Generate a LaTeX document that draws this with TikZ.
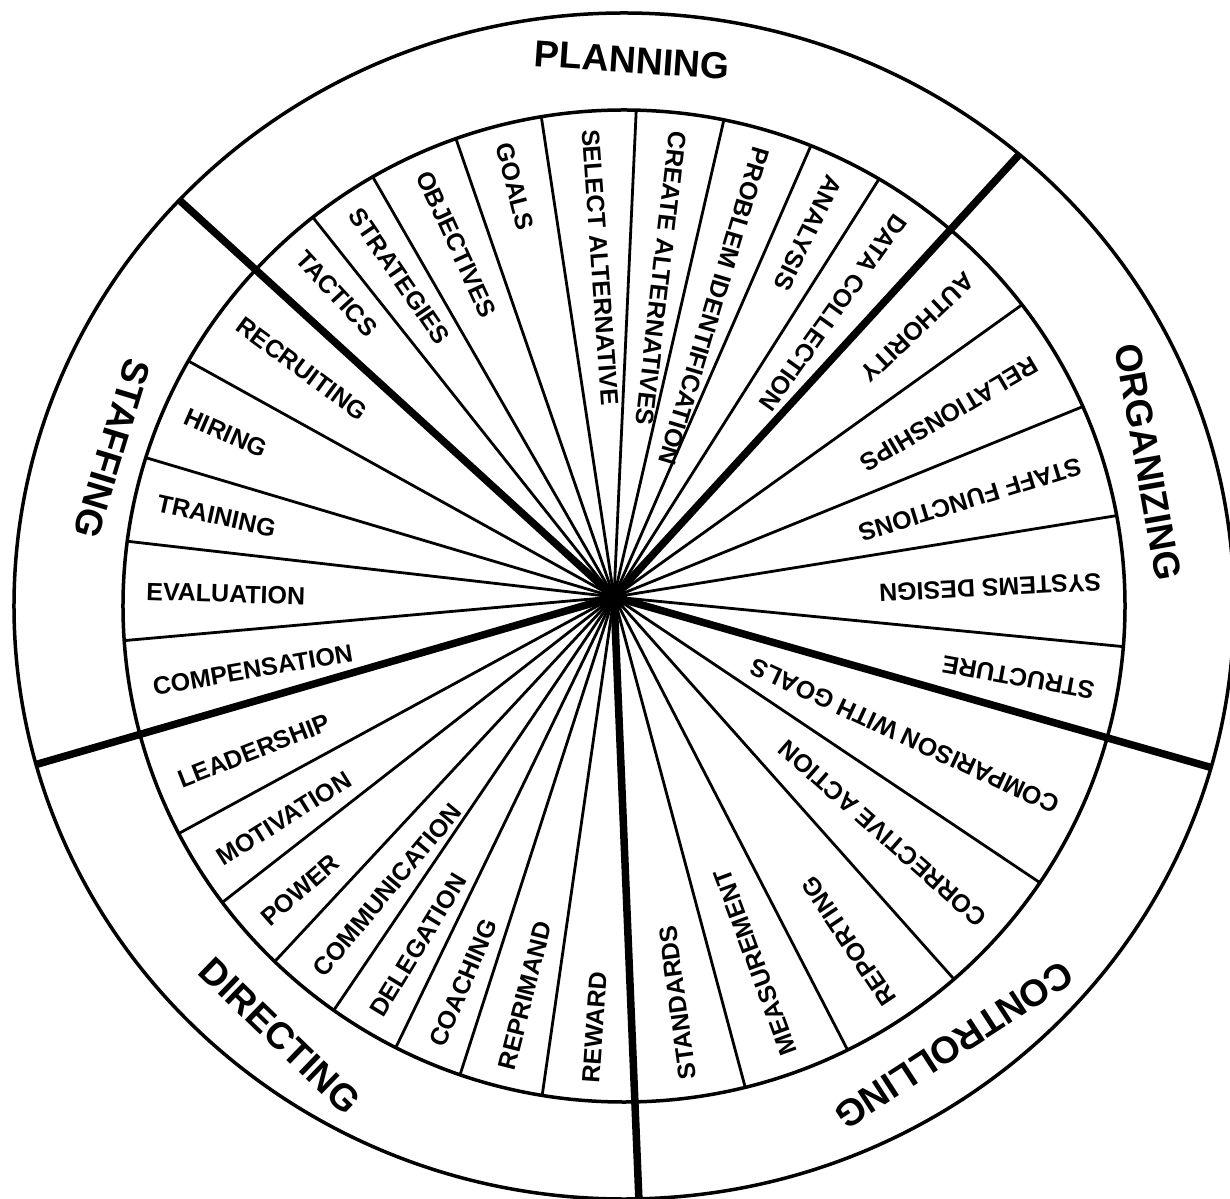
\documentclass[tikz,border=0pt]{standalone}
\usepackage{fontspec}
\setmainfont{Liberation Sans}
\usetikzlibrary{positioning}
\begin{document}
\begin{tikzpicture}[
  x=1pt, y=1pt,
  rim/.style={line width=3.5pt},
  spoke/.style={line width=2.8pt},
  divider/.style={line width=7.5pt},
  seglabel/.style={anchor=west, inner sep=0pt,
                   font=\fontsize{25}{30}\selectfont\bfseries},
  ringlabel/.style={anchor=center, inner sep=0pt,
                    font=\fontsize{37.5}{45}\selectfont\bfseries}
]
\useasboundingbox (-624,-592) rectangle (606,606);
\coordinate (hub) at (-10,9);
\draw[rim] (0,0) ellipse [x radius=610, y radius=593];
\draw[rim] (0,0) ellipse [x radius=501, y radius=496];
\foreach \a in {-4.7,10.5,23.7,37.4,59.4,68.1,78.5,88.6,99.5,109.6,120.1,128.4,
                150.4,162.6,172.5,184.0,207.3,216.7,225.8,234.6,242.9,250.9,260.6,
                284.0,296.5,311.2,326.1}
  \draw[spoke] (hub) -- (\a:501 and 496);
\foreach \a in {-15.8,49.6,136.8,195.5,271.4}
  \draw[divider] (hub) -- (\a:610 and 593);
\fill (hub) circle (13);
\foreach \a/\t [count=\i] in {-10.25/STRUCTURE, 2.9/SYSTEMS DESIGN, 17.1/STAFF FUNCTIONS,
    30.55/RELATIONSHIPS, 43.5/AUTHORITY, 54.5/DATA COLLECTION, 63.75/ANALYSIS,
    73.3/PROBLEM IDENTIFICATION, 83.55/CREATE ALTERNATIVES, 94.05/SELECT ALTERNATIVE,
    104.55/GOALS, 114.85/OBJECTIVES, 124.25/STRATEGIES, 132.6/TACTICS,
    143.6/RECRUITING, 156.5/HIRING, 167.55/TRAINING, 178.25/EVALUATION,
    189.75/COMPENSATION, 201.4/LEADERSHIP, 212/MOTIVATION, 221.25/POWER,
    230.2/COMMUNICATION, 238.75/DELEGATION, 246.9/COACHING, 255.75/REPRIMAND,
    266/REWARD, 277.7/STANDARDS, 290.25/MEASUREMENT, 303.85/REPORTING,
    318.65/CORRECTIVE ACTION, 335.15/COMPARISON WITH GOALS}
  \node[seglabel, rotate=\a+180] (seg\i) at (\a:478) {\t};
\node[ringlabel, rotate=-4] (planning) at (8,546) {PLANNING};
\node[ringlabel, rotate=-80] (organizing) at (524,144) {ORGANIZING};
\node[ringlabel, rotate=-147] (controlling) at (330,-439) {CONTROLLING};
\node[ringlabel, rotate=-44] (directing) at (-344,-430) {DIRECTING};
\node[ringlabel, rotate=-107] (staffing) at (-512,157) {STAFFING};
\end{tikzpicture}
\end{document}
